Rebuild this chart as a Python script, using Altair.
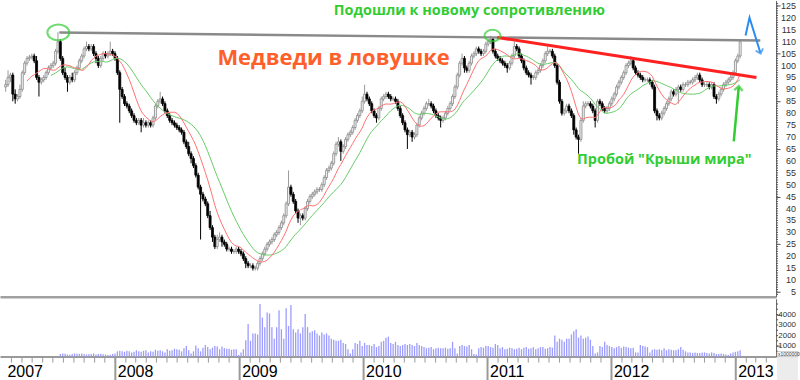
import altair as alt
import pandas as pd
import numpy as np

# ---------------- data (weekly) ----------------
closes = [
    92, 95, 96, 88, 86, 87, 90, 97, 101, 103,
    103.5, 104, 102, 95, 93, 94, 95, 97, 99, 100,
    101, 106, 110, 103, 97, 95, 93, 95, 94, 97,
    99, 102, 104, 107, 108, 107, 108, 105, 103, 100,
    103, 105, 104, 105, 106, 105, 103, 97, 90, 87,
    84, 83, 81, 79, 77, 76, 77, 75, 76, 75,
    76, 75, 78, 83, 85, 86, 84, 81, 79, 77,
    76, 75, 74, 73, 72, 68, 66, 63, 61, 58,
    54, 49, 46, 44, 42, 37, 32, 28, 24, 27,
    28, 26, 25, 23, 23, 22, 22, 23, 22, 21,
    19, 17, 16, 16, 15, 15, 17, 19, 21, 23,
    25, 26, 27, 29, 30, 32, 34, 37, 42, 49,
    46, 43, 39, 36, 37, 36, 40, 43, 45, 46,
    47, 48, 48, 50, 53, 56, 57, 59, 63, 67,
    68, 64, 66, 69, 71, 72, 74, 77, 79, 81,
    85, 88, 86, 84, 81, 79, 78, 82, 86, 87,
    88, 87, 86, 86, 85, 82, 79, 76, 73, 71,
    72, 70, 71, 75, 78, 80, 82, 84, 84, 83,
    81, 79, 78, 77, 78, 80, 82, 84, 87, 91,
    96, 101, 103, 99, 98, 101, 104, 105, 107, 106,
    105, 106, 109, 110, 111, 106, 104, 103, 102, 101,
    100, 99, 101, 104, 108, 107, 104, 102, 99, 97,
    96, 95, 95, 97, 98, 100, 102, 105, 106, 106,
    104, 100, 93, 85, 80, 81, 83, 81, 79, 73,
    70, 69, 77, 83, 84, 84, 83, 81, 77, 85,
    84, 82, 81, 82, 84, 86, 88, 91, 93, 95,
    97, 100, 101, 102, 99, 97, 96, 95, 94, 94,
    94, 93, 91, 81, 79, 78, 80, 82, 84, 86,
    89, 88, 90, 91, 90, 92, 92, 93, 93, 94,
    95, 96, 94, 92, 92, 92, 91, 92, 87, 86,
    88, 90, 92, 93, 94, 95, 97, 102, 104, 110,
]
first_open = 91

up_wick = [
    2, 3, 1, 1, 2, 1, 2, 1, 1, 1,
    1, 1, 1, 2, 1, 1, 1, 1, 1, 1,
    1, 1, 4, 1, 1, 2, 1, 1, 2, 1,
    1, 1, 1, 1, 2, 1, 1, 1, 1, 1,
    1, 1, 1, 1, 4, 1, 1, 1, 1, 1,
    1, 1, 1, 1, 1, 1, 1, 1, 2, 1,
    1, 1, 1, 1, 1, 3, 1, 1, 1, 1,
    1, 1, 1, 1, 1, 1, 1, 2, 1, 1,
    1, 1, 1, 1, 1, 1, 2, 1, 1, 2,
    2, 1, 1, 1, 1, 1, 1, 1, 1, 1,
    1, 1, 1, 1, 1, 1, 1, 1, 1, 1,
    1, 1, 1, 1, 1, 1, 1, 1, 1, 7,
    1, 1, 1, 1, 1, 1, 1, 1, 1, 1,
    1, 1, 1, 1, 1, 1, 1, 1, 1, 1,
    2, 1, 1, 1, 1, 1, 1, 1, 1, 1,
    2, 4, 1, 1, 1, 1, 1, 1, 1, 1,
    1, 1, 1, 1, 1, 1, 1, 1, 1, 1,
    1, 1, 1, 1, 1, 1, 1, 1, 2, 1,
    1, 1, 1, 1, 1, 1, 1, 1, 1, 1,
    1, 1, 2, 1, 1, 1, 1, 1, 1, 1,
    1, 1, 1, 1, 1.5, 1, 1, 1, 1, 1,
    1, 1, 1, 1, 2, 1, 1, 1, 1, 1,
    1, 1, 1, 1, 1, 1, 1, 1, 2, 1,
    1, 1, 1, 1, 1, 1, 1, 1, 1, 1,
    1, 1, 1, 2, 1, 1, 1, 1, 1, 1,
    1, 1, 1, 1, 1, 1, 1, 1, 1, 1,
    1, 1, 1, 2, 1, 1, 1, 1, 1, 1,
    1, 1, 1, 1, 1, 1, 1, 1, 1, 1,
    1, 1, 1, 1, 1, 1, 1, 1, 1, 1,
    1, 1, 1, 1, 1, 1, 1, 1, 1, 1,
    1, 1, 1, 1, 1, 1, 1, 1, 1, 1,
]
dn_wick = [
    2, 1, 2, 3, 2, 1, 1, 1, 1, 1,
    1, 1, 1, 1, 6, 1, 1, 1, 1, 1,
    1, 1, 1, 1, 1, 1, 4, 1, 1, 1,
    1, 1, 1, 1, 1, 1, 1, 1, 2, 1,
    1, 1, 1, 1, 1, 1, 1, 1, 14, 1,
    1, 1, 1, 1, 1, 1, 1, 3, 1, 1,
    1, 1, 1, 1, 1, 1, 1, 1, 1, 1,
    1, 1, 1, 1, 1, 1, 1, 1, 2, 1,
    1, 1, 19, 1, 1, 1, 1, 2, 1, 1,
    1, 2, 1, 1, 1, 1, 1, 1, 1, 1,
    1, 2, 1, 1, 1, 1, 1, 1, 1, 1,
    1, 1, 1, 1, 1, 1, 1, 1, 1, 1,
    1, 1, 1, 2, 3, 1, 1, 1, 1, 1,
    1, 1, 1, 1, 1, 1, 1, 1, 1, 1,
    1, 4, 1, 1, 1, 1, 1, 1, 1, 1,
    1, 1, 1, 1, 1, 1, 2, 1, 1, 1,
    1, 1, 1, 1, 1, 1, 1, 1, 1, 6,
    1, 2, 1, 1, 1, 1, 1, 1, 1, 1,
    1, 1, 1, 3, 1, 1, 1, 1, 1, 1,
    1, 1, 1, 2, 1, 1, 1, 1, 1, 1,
    1, 1, 1, 1, 1, 1, 1, 1, 1, 1,
    1, 2, 1, 1, 1, 1, 1, 1, 1, 1,
    1, 3, 1, 1, 1, 1, 1, 1, 1, 1,
    1, 1, 1, 1, 1, 1, 1, 1, 1, 2,
    1, 6, 1, 1, 1, 1, 1, 1, 3, 1,
    1, 1, 1, 1, 1, 1, 1, 1, 1, 1,
    1, 1, 1, 1, 1, 1, 1, 1, 1, 1,
    1, 1, 1, 1, 2, 1, 1, 1, 1, 1,
    1, 1, 1, 6, 1, 1, 1, 1, 1, 1,
    1, 1, 1, 1, 1, 1, 1, 1, 1, 2,
    1, 1, 1, 1, 1, 1, 1, 1, 1, 1,
]
volumes = [
    0, 0, 0, 0, 0, 0, 0, 0, 0, 0,
    0, 0, 0, 0, 0, 0, 0, 0, 0, 0,
    0, 0, 0, 250, 300, 280, 200, 180, 250, 300,
    280, 260, 300, 250, 200, 220, 250, 300, 200, 250,
    280, 220, 200, 150, 180, 250, 300, 500, 550, 500,
    450, 550, 500, 400, 450, 600, 500, 450, 550, 600,
    400, 500, 450, 650, 550, 600, 500, 400, 700, 550,
    600, 750, 700, 650, 500, 800, 1000, 600, 300, 500,
    1050, 800, 500, 850, 1100, 900, 700, 850, 1000, 950,
    700, 950, 800, 750, 750, 650, 700, 700, 150, 400,
    700, 1550, 3100, 1500, 2200, 2200, 2100, 5000, 3700, 2800,
    4200, 4100, 2800, 1700, 2800, 4400, 2600, 1700, 4600, 2900,
    4900, 2600, 2300, 2600, 2200, 2800, 4050, 2800, 2300, 2400,
    2500, 2200, 2000, 2300, 2100, 2200, 2000, 1700, 1600, 1500,
    1500, 1600, 1300, 1200, 700, 300, 700, 1300, 1200, 1500,
    1000, 1300, 1100, 1100, 1000, 1200, 900, 1000, 1400, 1500,
    1800, 1900, 1300, 1200, 1400, 1100, 1000, 1100, 1200, 1100,
    1200, 1100, 1000, 1300, 1100, 1000, 900, 800, 850, 900,
    700, 800, 850, 800, 800, 850, 750, 800, 1400, 800,
    300, 1000, 1100, 1000, 950, 1100, 700, 250, 200, 800,
    900, 850, 1000, 1000, 900, 850, 1200, 1100, 800, 900,
    700, 750, 850, 800, 700, 750, 850, 700, 850, 900,
    750, 800, 900, 700, 800, 900, 900, 750, 800, 900,
    850, 2000, 1400, 1700, 1600, 1400, 1700, 1700, 2100, 2400,
    2600, 1800, 2000, 1700, 1800, 1900, 1600, 1000, 300, 400,
    1000, 900, 1400, 1100, 1000, 900, 800, 900, 1000, 850,
    950, 900, 850, 800, 850, 400, 400, 1100, 1000, 950,
    900, 400, 650, 700, 650, 700, 600, 800, 600, 700,
    650, 600, 600, 700, 900, 650, 500, 400, 400, 350,
    400, 350, 350, 400, 400, 350, 300, 400, 350, 250,
    250, 300, 250, 200, 150, 300, 400, 450, 500, 600,
]

price_labels = list(range(5, 126, 5))
price_minor = list(range(4, 127))
volume_labels = [1000, 2000, 3000, 4000]
volume_minor = list(range(500, 5001, 500))
year_marks = [2008, 2009, 2010, 2011, 2012, 2013]

# annotations: (decimal year, price)
resist_t = [2007.548, 2013.198]
resist_v = [113.9, 110.5]
trend_t = [2011.079, 2013.167]
trend_v = [111.8, 95.0]
zig_t = [2013.079, 2013.111, 2013.198]
zig_v = [112.6, 120.1, 105.5]
garrow_t = [2012.984, 2013.024]
garrow_v = [68.2, 90.9]
circle_t = [2007.540, 2011.040]
circle_v = [113.9, 112.6]
labels = ["Медведи в ловушке", "Подошли к новому сопротивлению", 'Пробой "Крыши мира"']
label_t = [2009.758, 2010.853, 2012.425]
label_v = [103.0, 122.7, 60.3]


def ydate(t):
    y = int(t)
    start = pd.Timestamp(year=y, month=1, day=1)
    end = pd.Timestamp(year=y + 1, month=1, day=1)
    return start + (end - start) * (t - y)


# ---------------- frames ----------------
n = len(closes)
dates = pd.date_range("2007-02-12", periods=n, freq="7D")
opens = [first_open] + closes[:-1]
df = pd.DataFrame({"date": dates, "open": opens, "close": closes})
df["high"] = np.maximum(df["open"], df["close"]) + np.array(up_wick)
df["low"] = np.minimum(df["open"], df["close"]) - np.array(dn_wick)
df["dir"] = np.where(df["close"] >= df["open"], "up", "down")
df["volume"] = volumes

resist_df = pd.DataFrame({"date": [ydate(t) for t in resist_t], "price": resist_v})
trend_df = pd.DataFrame({"date": [ydate(t) for t in trend_t], "price": trend_v})
zig_df = pd.DataFrame({"date": [ydate(t) for t in zig_t], "price": zig_v})
garrow_df = pd.DataFrame({"date": [ydate(t) for t in garrow_t], "price": garrow_v})
circle_df = pd.DataFrame({"date": [ydate(t) for t in circle_t], "price": circle_v, "w": [22, 16]})
label_df = pd.DataFrame({"date": [ydate(t) for t in label_t], "price": label_v, "text": labels})
years_df = pd.DataFrame({"date": [pd.Timestamp(year=y, month=1, day=1) for y in year_marks]})
months_df = pd.DataFrame({"date": pd.date_range("2007-03-01", "2013-04-01", freq="MS")})
pminor_df = pd.DataFrame({"tick": price_minor})
plabel_df = pd.DataFrame({"tick": price_labels, "txt": [str(v) for v in price_labels]})
vminor_df = pd.DataFrame({"tick": volume_minor})
vlabel_df = pd.DataFrame({"tick": volume_labels, "txt": [str(v) for v in volume_labels]})

# ---------------- scales / axes ----------------
x_scale = alt.Scale(domain=[alt.DateTime(year=2007, month=2, date=10),
                            alt.DateTime(year=2013, month=4, date=15)])
y_scale = alt.Scale(domain=[3.0, 127.3], nice=False, zero=False)
W = 778
FONT = "Liberation Sans"

price_y_axis = alt.Axis(
    orient="right", values=price_labels, title=None, grid=False, labels=False,
    tickSize=4, tickColor="#555555", domainColor="#666666", domainWidth=1,
)
price_x_axis = alt.Axis(labels=False, ticks=False, grid=False, title=None,
                        domain=True, domainColor="#a0a0a0", domainWidth=2.5)

xenc = alt.X("date:T", scale=x_scale, axis=price_x_axis, title=None)

wick = alt.Chart(df).mark_rule(strokeWidth=1).encode(
    x=xenc,
    y=alt.Y("low:Q", scale=y_scale, axis=price_y_axis, title=None),
    y2="high:Q",
    color=alt.Color("dir:N", scale=alt.Scale(domain=["up", "down"], range=["#9a9a9a", "#000000"]), legend=None),
)
body = alt.Chart(df).mark_bar(size=2, strokeWidth=0.8).encode(
    x=xenc,
    y=alt.Y("open:Q", title=None),
    y2="close:Q",
    fill=alt.Fill("dir:N", scale=alt.Scale(domain=["up", "down"], range=["#f2f2f2", "#000000"]), legend=None),
    stroke=alt.Stroke("dir:N", scale=alt.Scale(domain=["up", "down"], range=["#888888", "#000000"]), legend=None),
)

ma_base = alt.Chart(df).transform_window(
    ma10="mean(close)", n10="count()", frame=[-9, 0], sort=[alt.SortField("date")]
).transform_window(
    ma20="mean(close)", n20="count()", frame=[-19, 0], sort=[alt.SortField("date")]
)
ma_red = ma_base.transform_filter("datum.n10 >= 10").mark_line(color="#ff7070", strokeWidth=1).encode(
    x=xenc, y=alt.Y("ma10:Q", title=None))
ma_green = ma_base.transform_filter("datum.n20 >= 20").mark_line(color="#66cc66", strokeWidth=1).encode(
    x=xenc, y=alt.Y("ma20:Q", title=None))

pminor = alt.Chart(pminor_df).mark_rule(color="#555555", strokeWidth=1).encode(
    y=alt.Y("tick:Q", title=None), x=alt.value(W), x2=alt.value(W + 2))
plabels = alt.Chart(plabel_df).mark_text(
    font=FONT, fontSize=9, color="#333333", align="right", baseline="middle").encode(
    y=alt.Y("tick:Q", title=None), x=alt.value(798), text="txt:N")

resist = alt.Chart(resist_df).mark_line(color="#8a8a8a", strokeWidth=2.5).encode(
    x=xenc, y=alt.Y("price:Q", title=None))
trend = alt.Chart(trend_df).mark_line(color="#ff2020", strokeWidth=3).encode(
    x=xenc, y=alt.Y("price:Q", title=None))
zig = alt.Chart(zig_df).mark_line(color="#2d8cf0", strokeWidth=2).encode(
    x=xenc, y=alt.Y("price:Q", title=None))
zig_head = alt.Chart(zig_df.iloc[[2]]).mark_point(
    shape="M-1,0.8 L0,-0.3 L1,0.8", filled=False, color="#2d8cf0", strokeWidth=2, size=60, angle=162
).encode(x=xenc, y=alt.Y("price:Q", title=None))
garrow = alt.Chart(garrow_df).mark_line(color="#33cc33", strokeWidth=2.5).encode(
    x=xenc, y=alt.Y("price:Q", title=None))
garrow_head = alt.Chart(garrow_df.iloc[[1]]).mark_point(
    shape="M-1,0.8 L0,-0.3 L1,0.8", filled=False, color="#33cc33", strokeWidth=2.5, size=70, angle=5
).encode(x=xenc, y=alt.Y("price:Q", title=None))
ellipse = "M-1,0 A1,0.72 0 1,1 1,0 A1,0.72 0 1,1 -1,0 Z"
circles = alt.Chart(circle_df).mark_point(
    shape=ellipse, filled=False, color="#33cc33", strokeWidth=2
).encode(x=xenc, y=alt.Y("price:Q", title=None),
         size=alt.Size("w:Q", scale=alt.Scale(type="pow", exponent=2, domain=[0, 22], range=[0, 484]), legend=None))

txt_main = alt.Chart(label_df.iloc[[0]]).mark_text(
    font="Open Sans", fontSize=22, fontWeight="bold", color="#ff5f2a", align="center", baseline="middle"
).encode(x=xenc, y=alt.Y("price:Q", title=None), text="text:N")
txt_green = alt.Chart(label_df.iloc[[1, 2]]).mark_text(
    font="Open Sans", fontSize=14.5, fontWeight="bold", color="#33cc33", align="center", baseline="middle"
).encode(x=xenc, y=alt.Y("price:Q", title=None), text="text:N")

price = alt.layer(
    wick, body, ma_green, ma_red, pminor, plabels, resist, trend, zig, zig_head, garrow, garrow_head,
    circles, txt_main, txt_green
).properties(width=W, height=297)

# ---------------- volume panel ----------------
VH = 58
vol_x_axis = alt.Axis(
    values=[alt.DateTime(year=2007, month=2, date=10)] + [alt.DateTime(year=y, month=1, date=1) for y in year_marks],
    format="%Y", title=None, grid=False, ticks=False, tickSize=0,
    domainColor="#9a9a9a", domainWidth=2,
    labelFont=FONT, labelFontSize=16, labelColor="#000000", labelAlign="left", labelOffset=2,
    labelPadding=20, labelBaseline="alphabetic", labelOverlap=False, labelFlush=False, labelBound=False,
)
vol_y_axis = alt.Axis(
    orient="right", values=volume_labels, title=None, grid=False, labels=False,
    tickSize=4, tickColor="#555555", domainColor="#666666",
)
vol_bars = alt.Chart(df).transform_filter("datum.volume > 0").mark_bar(size=1.3, color="#9c9cff").encode(
    x=alt.X("date:T", scale=x_scale, axis=vol_x_axis, title=None),
    y=alt.Y("volume:Q", scale=alt.Scale(domain=[0, 5500], nice=False), axis=vol_y_axis, title=None),
)
vminor = alt.Chart(vminor_df).mark_rule(color="#555555", strokeWidth=1).encode(
    y=alt.Y("tick:Q", title=None), x=alt.value(W), x2=alt.value(W + 2))
vlabels = alt.Chart(vlabel_df).mark_text(
    font=FONT, fontSize=8, color="#333333", align="right", baseline="middle").encode(
    y=alt.Y("tick:Q", title=None), x=alt.value(798), text="txt:N")
month_rules = alt.Chart(months_df).mark_rule(color="#9a9a9a", strokeWidth=1).encode(
    x=alt.X("date:T", scale=x_scale, title=None), y=alt.value(VH), y2=alt.value(VH + 6))
year_rules = alt.Chart(years_df).mark_rule(color="#9a9a9a", strokeWidth=2).encode(
    x=alt.X("date:T", scale=x_scale, title=None), y=alt.value(VH), y2=alt.value(VH + 24))
corner = alt.Chart(pd.DataFrame({"k": [0]})).mark_rect(color="#ececec").encode(
    x=alt.value(W + 1), x2=alt.value(800), y=alt.value(VH), y2=alt.value(VH + 24))
unit_box = alt.Chart(pd.DataFrame({"k": [0]})).mark_rect(fill="#ffffff", stroke="#999999", strokeWidth=0.5).encode(
    x=alt.value(W + 1), x2=alt.value(800), y=alt.value(VH - 5), y2=alt.value(VH))
vol_unit = alt.Chart(pd.DataFrame({"t": ["x1000000"]})).mark_text(
    fontSize=5, font=FONT, color="#333333", align="left", baseline="middle").encode(
    x=alt.value(W + 2), y=alt.value(VH - 2.5), text="t:N")

vol = alt.layer(vol_bars, vminor, vlabels, month_rules, year_rules, corner, unit_box, vol_unit).properties(
    width=W, height=VH)

chart = alt.vconcat(price, vol, spacing=1).properties(
    padding={"left": 0, "right": 0, "top": 0, "bottom": 0},
    background="white",
).configure_view(stroke=None)

chart.save("out.html", embed_options={"renderer": "svg", "actions": False})
